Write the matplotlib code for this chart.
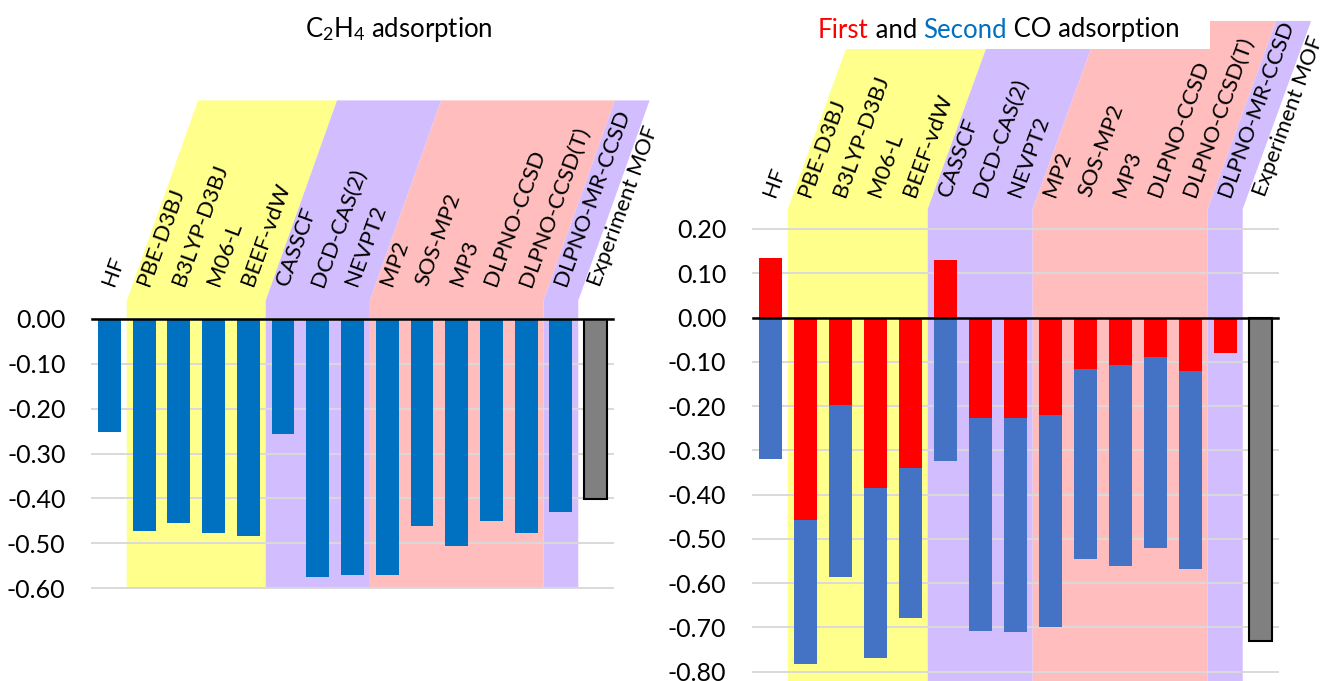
import matplotlib
matplotlib.use('Agg')
import matplotlib.pyplot as plt
from matplotlib.patches import Polygon, Rectangle
import numpy as np

plt.rcParams['font.family'] = ['Lato', 'DejaVu Sans']
plt.rcParams['mathtext.fontset'] = 'custom'
plt.rcParams['mathtext.rm'] = 'Lato'
plt.rcParams['mathtext.it'] = 'Lato:italic'
plt.rcParams['axes.unicode_minus'] = False

methods = ['HF', 'PBE-D3BJ', 'B3LYP-D3BJ', 'M06-L', 'BEEF-vdW', 'CASSCF',
           'DCD-CAS(2)', 'NEVPT2', 'MP2', 'SOS-MP2', 'MP3', 'DLPNO-CCSD',
           'DLPNO-CCSD(T)', 'DLPNO-MR-CCSD', 'Experiment MOF']

# C2H4 adsorption (last one is experiment)
c2h4 = [-0.251, -0.472, -0.454, -0.477, -0.483, -0.257, -0.575, -0.572,
        -0.570, -0.462, -0.506, -0.450, -0.477, -0.430, -0.401]

# CO adsorption: first (red) and second (blue) segments
co_first = [0.135, -0.458, -0.198, -0.384, -0.340, 0.131, -0.228, -0.228,
            -0.221, -0.117, -0.108, -0.090, -0.120, -0.079]
co_second = [-0.320, -0.324, -0.388, -0.386, -0.338, -0.325, -0.480, -0.482,
             -0.478, -0.428, -0.454, -0.431, -0.447, 0.0]
co_exp = -0.730

# method families: (first index, last index, colour)
groups = [(1, 4, '#FFFF8C'), (5, 7, '#D2BDFF'), (8, 12, '#FFBDBD'), (13, 13, '#D2BDFF')]

BLUE_L = '#0070C0'
BLUE_R = '#4472C4'
RED = '#FF0000'
GREY = '#808080'

fig = plt.figure(figsize=(13.25, 6.81), dpi=100)
axL = fig.add_axes([92/1325, 93/681, 521/1325, 269/681])
axR = fig.add_axes([752.7/1325, 9.3/681, 525/1325, 442.7/681])


def setup(ax, ylo, yhi, band_lo, slant_lo, band_hi, label_y):
    ax.set_xlim(-0.5, 14.5)
    ax.set_ylim(ylo, yhi)
    for s in ax.spines.values():
        s.set_visible(False)
    ax.set_xticks([])
    ticks = np.round(np.arange(ylo, yhi + 1e-9, 0.1), 2)
    ax.set_yticks(ticks)
    ax.set_yticklabels(['0.00' if abs(t) < 1e-9 else f'{t:.2f}' for t in ticks])
    ax.tick_params(axis='y', length=0, pad=19, labelsize=18)
    for t in ticks:
        ax.axhline(t, color='#D9D9D9', lw=1.4, zorder=1, clip_on=False)
    ax.axhline(0, color='black', lw=1.8, zorder=4, clip_on=False)
    dx = 4.6 * (band_hi - slant_lo)
    for i0, i1, col in groups:
        a, b = i0 - 0.5, i1 + 0.5
        pts = [(a, band_lo), (b, band_lo), (b, slant_lo), (b + dx, band_hi),
               (a + dx, band_hi), (a, slant_lo)]
        ax.add_patch(Polygon(pts, closed=True, fc=col, ec='none', zorder=0, clip_on=False))
    for i, name in enumerate(methods):
        ax.text(i - 0.02, label_y, name, rotation=70, rotation_mode='anchor',
                ha='left', va='center', fontsize=16, clip_on=False, zorder=5)


x = np.arange(len(methods))
w = 0.66

# left panel
setup(axL, -0.6, 0.0, -0.6, 0.041, 0.4876, 0.075)
axL.bar(x[:-1], c2h4[:-1], w, color=BLUE_L, zorder=2)
axL.bar(x[-1], c2h4[-1], w, color=GREY, edgecolor='black', lw=1.5, zorder=2)
fig.text(399/1325, 1 - 30/681, 'C$_2$H$_4$ adsorption', ha='center', va='center', fontsize=18.5)

# right panel
setup(axR, -0.8, 0.2, -0.85, 0.245, 0.67, 0.275)
first = np.array(co_first)
second = np.array(co_second)
axR.bar(x[:-1], first, w, color=RED, zorder=2)
axR.bar(x[:-1], second, w, bottom=np.minimum(first, 0), color=BLUE_R, zorder=2)
axR.bar(x[-1], co_exp, w, color=GREY, edgecolor='black', lw=1.5, zorder=2)

# white box behind the right title
fig.patches.append(Rectangle((800/1325, 1 - 49/681), 410/1325, 30/681,
                             transform=fig.transFigure, fc='white', ec='none', zorder=10))
parts = [('First', RED), (' and ', 'black'), ('Second', BLUE_L), (' CO adsorption', 'black')]
texts = [fig.text(818/1325, 1 - 30/681, s, color=c, fontsize=18.5, ha='left',
                  va='center', zorder=11) for s, c in parts]
fig.canvas.draw()
r = fig.canvas.get_renderer()
xpos = texts[0].get_window_extent(r).x1
for t in texts[1:]:
    t.set_x(xpos / fig.bbox.width)
    xpos += t.get_window_extent(r).width

fig.savefig('out.png', dpi=100)
